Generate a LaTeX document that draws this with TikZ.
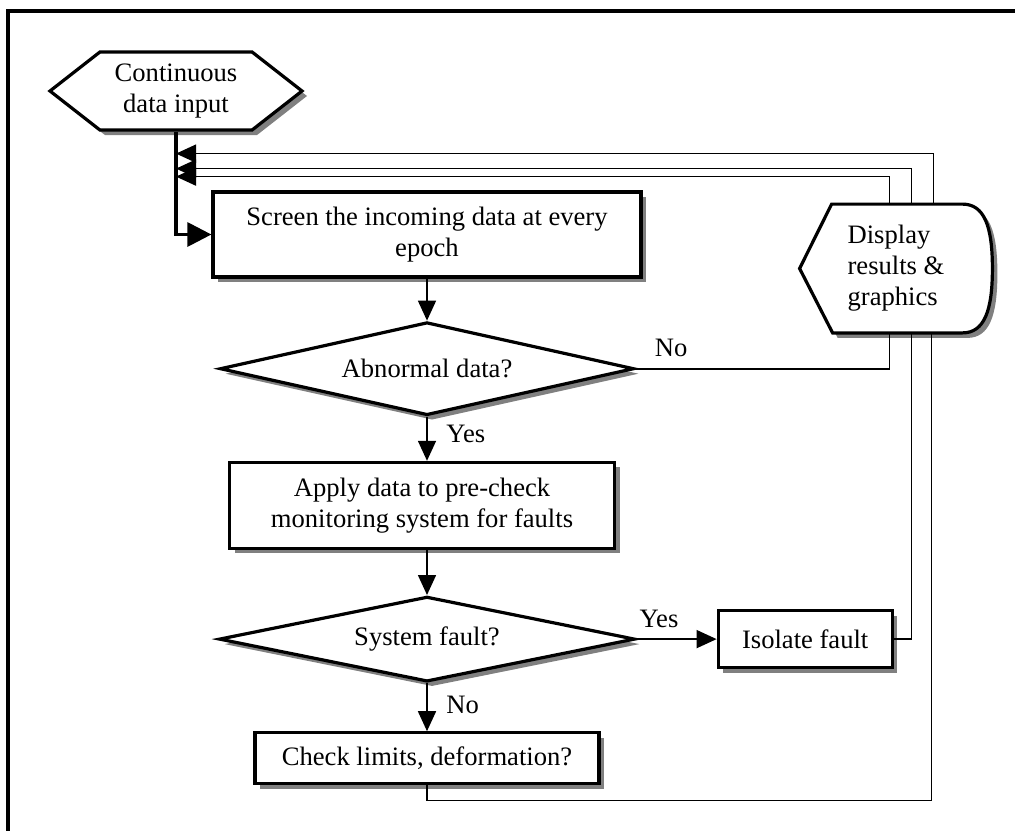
\documentclass[tikz,border=0pt]{standalone}
\usepackage{fontspec}
\setmainfont{Liberation Serif}
\usepackage{tikz}
\usetikzlibrary{positioning}
\usetikzlibrary{shapes.geometric, shapes.symbols, arrows.meta, shadows, calc, backgrounds}
\newcommand{\flowfont}{\fontsize{13.3}{15.5}\selectfont}
\tikzstyle{link} = [line width=0.8pt]
\tikzstyle{arrow} = [line width=0.8pt,-{Triangle[length=10pt,width=9pt]}]
\tikzstyle{inarrow} = [line width=1.6pt,-{Triangle[length=12pt,width=12pt]}]
\tikzstyle{boxshadow} = [drop shadow={shadow xshift=2.5pt,shadow yshift=-2.5pt,fill=black!50,opacity=1}]
\tikzstyle{process} = [draw,line width=1.6pt,fill=white,align=center,boxshadow]
\tikzstyle{decision} = [diamond,draw,line width=1.6pt,fill=white,align=center,inner sep=0pt,boxshadow]
\tikzstyle{terminal} = [signal,signal to=west and east,signal pointer angle=76,draw,line width=1.6pt,fill=white,align=center,boxshadow]

\begin{document}
\begin{tikzpicture}[x=0.5pt,y=-0.5pt,font=\flowfont]
	\useasboundingbox (0,0) rectangle (1015,830);
	\clip (0,0) rectangle (1015,830);
	%Frame
	\draw[line width=1.6pt] (8,850) -- (8,11) -- (1030,11);

	%Nodes
	\node[terminal,minimum width=126pt,minimum height=39pt] (input) at (176,91) {Continuous\\data input};
	\node[process,minimum width=214pt,minimum height=42.5pt] (screen) at (427,234.5) {Screen the incoming data at every\\epoch};
	\node[decision,aspect=4.45,minimum width=207pt,minimum height=46.5pt,below=21pt of screen] (abnormal) {Abnormal data?};
	\node[process,minimum width=192.5pt,minimum height=43pt,below=22pt of abnormal,xshift=-2.5pt] (apply) {Apply data to pre-check\\monitoring system for faults};
	\node[decision,aspect=4.9,minimum width=208pt,minimum height=42.5pt,below=22.5pt of apply,xshift=2.5pt] (fault) {System fault?};
	\node[process,minimum width=87pt,minimum height=28.5pt,right=40pt of fault] (isolate) {Isolate fault};
	\node[process,minimum width=172pt,minimum height=25.5pt,below=24pt of fault] (limits) {Check limits, deformation?};
	\node[align=left,inner sep=0pt,minimum width=96pt,minimum height=64pt] (display) at (896,268.5) {Display\\results \&\\graphics};

	%Display outline
	\begin{scope}[on background layer]
		\draw[line width=1.6pt,fill=white,boxshadow] (display.west) -- ($(display.north west)+(32,0)$) -- ($(display.north east)+(-30,0)$)
			.. controls ($(display.north east)+(-8,0)$) and ($(display.east)+(0,-42)$) .. (display.east)
			.. controls ($(display.east)+(0,42)$) and ($(display.south east)+(-8,0)$) .. ($(display.south east)+(-30,0)$)
			-- ($(display.south west)+(33,0)$) -- cycle;
	\end{scope}

	%Lines
	\coordinate (in1) at ($(input.south)+(0,22)$);
	\coordinate (in2) at ($(input.south)+(0,37)$);
	\coordinate (in3) at ($(input.south)+(0,45)$);

	\draw[inarrow] (input.south) |- (screen.west);
	\draw[arrow] (screen) -- (abnormal);
	\draw[arrow] (abnormal.south) -- (abnormal.south |- apply.north) node[pos=0.4,right=6pt] {Yes};
	\draw[arrow] (apply.south -| fault.north) -- (fault.north);
	\draw[arrow] (fault.south) -- (limits.north) node[pos=0.45,right=6pt] {No};
	\draw[arrow] (fault.east) -- (isolate.west) node[pos=0.28,above=2pt] {Yes};

	\draw[link] (abnormal.east) -| ($(display.south west)+(90,0)$) node[pos=0.07,above=2pt] {No};
	\draw[link] (isolate.east) -| ($(display.south west)+(112,0)$);
	\draw[link] (limits.south) -- ++(0,15) -| ($(display.south west)+(132,0)$);

	\draw[arrow] ($(display.north west)+(134,0)$) |- (in1);
	\draw[arrow] ($(display.north west)+(112,0)$) |- (in2);
	\draw[arrow] ($(display.north west)+(90,0)$) |- (in3);
\end{tikzpicture}
\end{document}
